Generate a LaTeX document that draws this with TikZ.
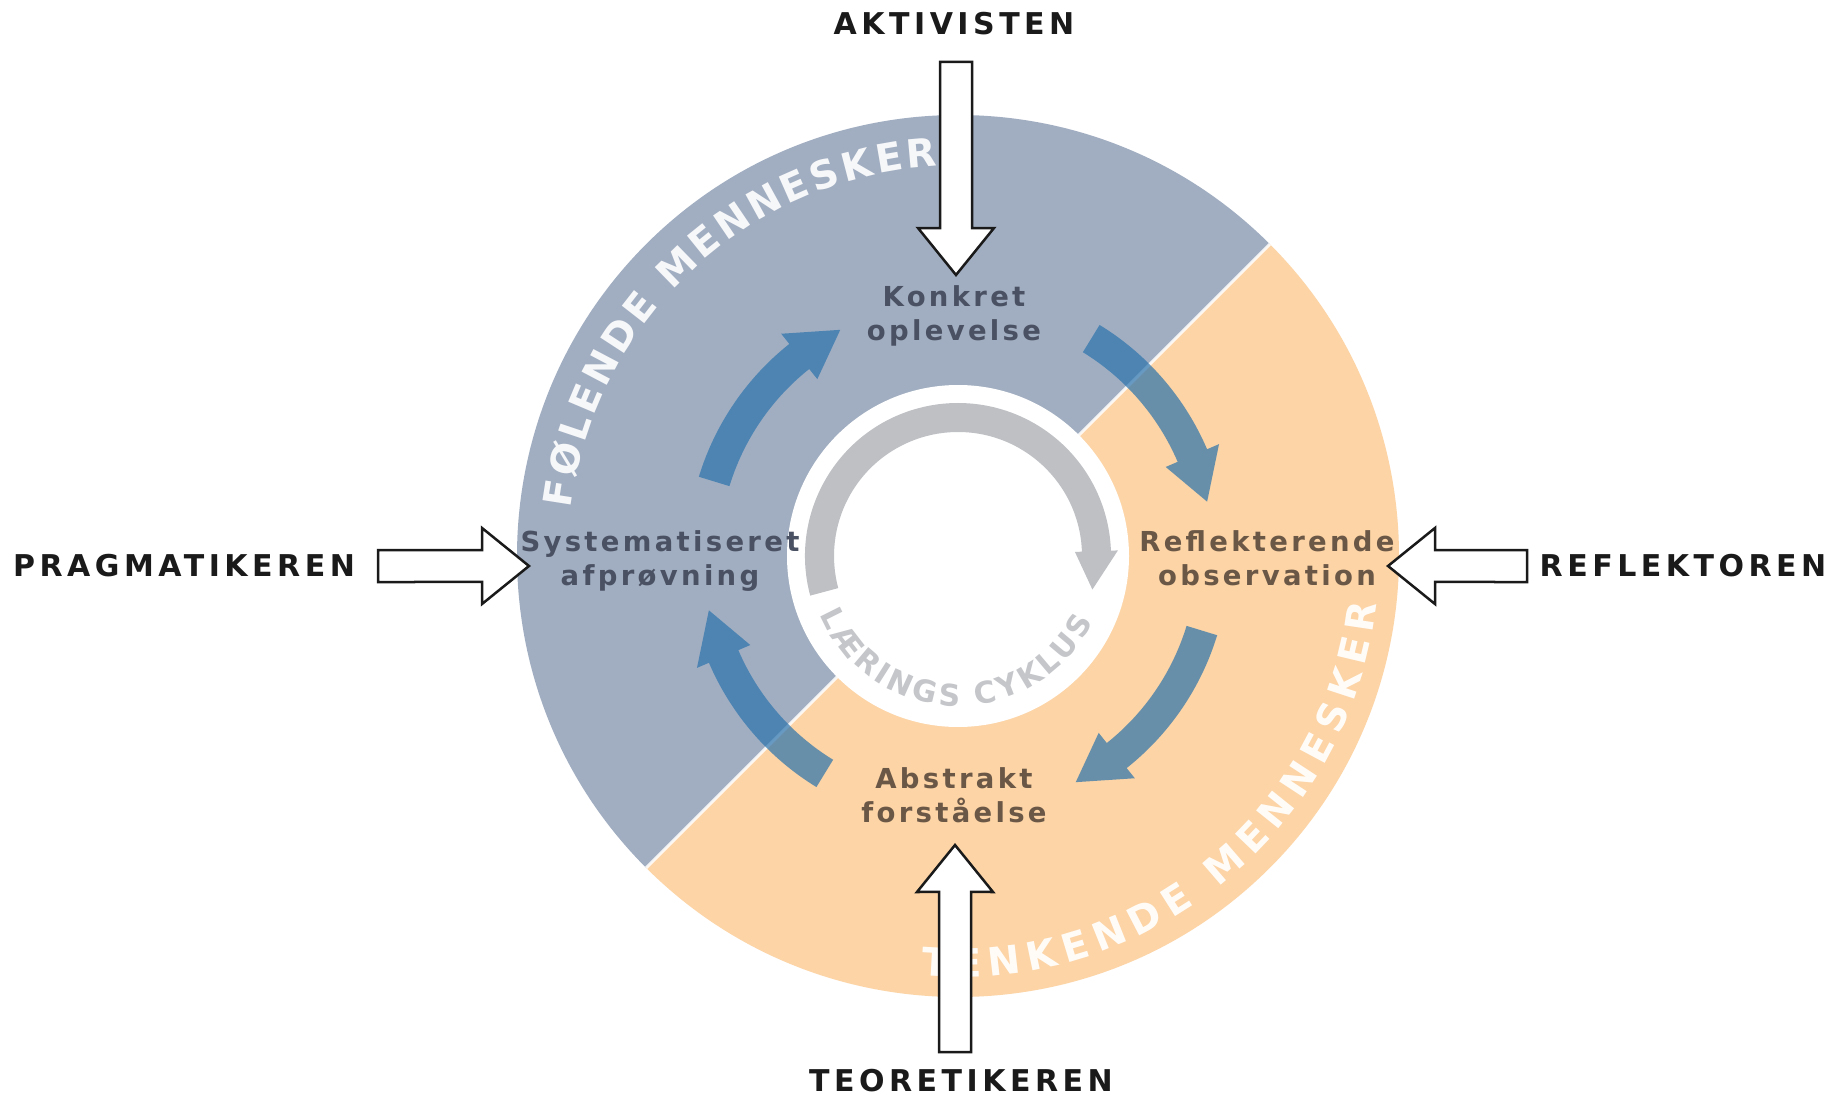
\documentclass[tikz,border=0pt]{standalone}
\usepackage{fontspec}
\setmainfont{DejaVu Sans}
\newfontfamily\innerfam{DejaVu Sans}[LetterSpace=12]
\newfontfamily\outerfam{DejaVu Sans}[LetterSpace=15]
\newfontfamily\ringfam{DejaVu Sans}
\usetikzlibrary{calc,decorations.text}
\definecolor{bluegrey}{RGB}{161,174,193}
\definecolor{peach}{RGB}{252,212,166}
\definecolor{cyclegrey}{RGB}{190,192,196}
\definecolor{cycletext}{RGB}{196,198,202}
\definecolor{cycblue}{RGB}{42,115,173}
\definecolor{slatetext}{RGB}{74,81,99}
\definecolor{browntext}{RGB}{107,87,70}
\definecolor{outertext}{RGB}{26,26,26}

\newcommand\cycarrow[3]{%
  \fill[cycarr] (#1:239) arc[start angle=#1, end angle=#2, radius=239]
    -- (#2:226) -- (#3:255) -- (#2:284) -- (#2:271)
    arc[start angle=#2, end angle=#1, radius=271] -- cycle;}

\newcommand\blockarrow[2]{%
  \draw[blockarr] let \p1=(#1), \p2=(#2), \n1={atan2(\y1-\y2,\x1-\x2)} in
    (\p2) -- ($(\p2)+(\n1+38.96:60.44)$) -- ($(\p2)+(\n1+18.80:49.64)$)
    -- ($(\p1)+(\n1+90:16)$) -- ($(\p1)+(\n1-90:16)$)
    -- ($(\p2)+(\n1-18.80:49.64)$) -- ($(\p2)+(\n1-38.96:60.44)$) -- cycle;}

\begin{document}
\begin{tikzpicture}[x=0.5pt,y=0.5pt,
  innerlab/.style={font=\innerfam\bfseries\fontsize{13.75}{17}\selectfont, align=center, inner sep=0pt},
  outerlab/.style={font=\outerfam\bfseries\fontsize{15}{18}\selectfont, text=outertext, inner sep=0pt},
  blockarr/.style={draw=outertext, fill=white, line width=1.25pt, line join=miter},
  cycarr/.style={fill=cycblue, fill opacity=0.7},
  ringtext/.style={decorate, decoration={text along path, text align={fit to path}}},
]
\useasboundingbox (0,0) rectangle (1843,1100);
\fill[white] (0,0) rectangle (1843,1100);

\coordinate (C) at (958,544);
\begin{scope}[shift={(C)}]
  % two halves of the ring
  \fill[bluegrey] (0,0) -- (45:441) arc[start angle=45, end angle=225, radius=441] -- cycle;
  \fill[peach] (0,0) -- (225:441) arc[start angle=225, end angle=405, radius=441] -- cycle;
  \draw[white, line width=1.5pt, opacity=0.85] (225:441) -- (45:441);
  % inner white disk
  \fill[white] (0,0) circle[radius=171];
  % grey cycle arrow
  \fill[cyclegrey] (195:124) -- (195:153) arc[start angle=195, end angle=2, radius=153]
    -- (2:160) -- (-14:138.5) -- (2:117) -- (2:124)
    arc[start angle=2, end angle=195, radius=124] -- cycle;
  \path[ringtext, decoration={text color=cycletext,
      text={|\ringfam\bfseries\fontsize{15}{15}\selectfont|LÆRINGS CYKLUS}}]
    (203:150) arc[start angle=203, end angle=334, radius=150];
  % blue cycle arrows
  \cycarrow{163}{128.5}{117.5}
  \cycarrow{58.5}{23.2}{12.3}
  \cycarrow{-17}{-51.5}{-62.5}
  \cycarrow{238.5}{203.2}{192.3}
  % ring texts
  \path[ringtext, decoration={text color=white!90!bluegrey,
      text={|\ringfam\bfseries\fontsize{19.5}{20}\selectfont|FØLENDE MENNESKER}}]
    (173:390) arc[start angle=173, end angle=93, radius=390];
  \path[ringtext, decoration={text color=white!92!peach,
      text={|\ringfam\bfseries\fontsize{19.5}{20}\selectfont|TENKENDE MENNESKER}}]
    (-95:421) arc[start angle=-95, end angle=-6.5, radius=421];
\end{scope}

% inner labels
\node[innerlab, text=slatetext] (konk) at (954,784) {Konkret\\oplevelse};
\node[innerlab, text=slatetext] (syst) at (660,539) {Systematiseret\\afprøvning};
\node[innerlab, text=browntext] (refl) at (1267,541.5) {Reflekterende\\observation};
\node[innerlab, text=browntext] (abst) at (954,305) {Abstrakt\\forståelse};

% outer labels
\node[outerlab] (akt) at (954,1076) {AKTIVISTEN};
\node[outerlab] (teo) at (961,19) {TEORETIKEREN};
\node[outerlab] (reflk) at (1683,534) {REFLEKTOREN};
\node[outerlab] (prag) at (184,534) {PRAGMATIKEREN};

% block arrows
\coordinate (aktTail) at (956,1038);
\coordinate (aktTip) at (956,825);
\coordinate (teoTail) at (955,48);
\coordinate (teoTip) at (955,255);
\coordinate (refTail) at (1527,534);
\coordinate (refTip) at (1388,534);
\coordinate (praTail) at (378,534);
\coordinate (praTip) at (529,534);
\blockarrow{aktTail}{aktTip}
\blockarrow{teoTail}{teoTip}
\blockarrow{refTail}{refTip}
\blockarrow{praTail}{praTip}
\end{tikzpicture}
\end{document}
